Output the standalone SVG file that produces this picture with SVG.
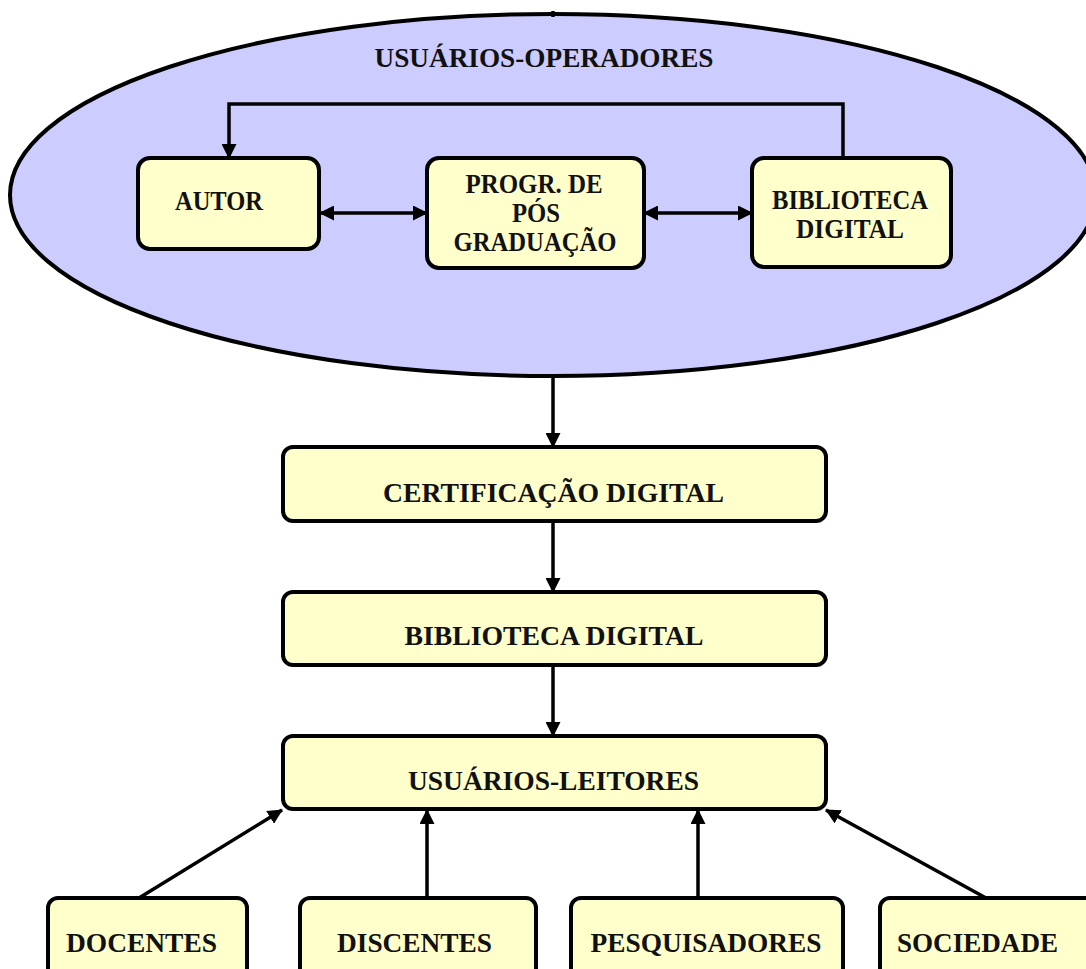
<svg xmlns="http://www.w3.org/2000/svg" width="1086" height="969" viewBox="0 0 1086 969">
  <style>
    .box { fill: #FFFFCC; stroke: #000; stroke-width: 4; }
    .lbl { font-family: "Liberation Serif", "Times New Roman", serif; font-weight: bold; fill: #111; text-anchor: middle; }
    .s24 { font-size: 27px; }
    .s27 { font-size: 27px; }
    .con { fill: none; stroke: #000; stroke-width: 3.5; }
  </style>
  <defs>
    <marker id="ah" markerUnits="userSpaceOnUse" markerWidth="15" markerHeight="15" viewBox="0 0 15 15" refX="14" refY="7.5" orient="auto-start-reverse">
      <path d="M0,0 L15,7.5 L0,15 z" fill="#000"/>
    </marker>
  </defs>
  <rect width="1086" height="969" fill="#fff"/>

  <g id="usuarios-operadores">
    <ellipse cx="553" cy="195" rx="543" ry="181" fill="#CCCCFF" stroke="#000" stroke-width="4"/>
    <text class="lbl s27" x="544" y="67" textLength="339" lengthAdjust="spacingAndGlyphs">USUÁRIOS-OPERADORES</text>
  </g>

  <g id="autor">
    <rect class="box" x="138" y="158" width="181" height="91" rx="12"/>
    <text class="lbl s24" x="219" y="210" textLength="88" lengthAdjust="spacingAndGlyphs">AUTOR</text>
  </g>

  <g id="progr-pos">
    <rect class="box" x="427" y="158" width="217" height="110" rx="12"/>
    <text class="lbl s24" x="534" y="193" textLength="137" lengthAdjust="spacingAndGlyphs">PROGR. DE</text>
    <text class="lbl s24" x="536" y="222" textLength="48" lengthAdjust="spacingAndGlyphs">PÓS</text>
    <text class="lbl s24" x="535" y="251" textLength="163" lengthAdjust="spacingAndGlyphs">GRADUAÇÃO</text>
  </g>

  <g id="biblioteca-digital-op">
    <rect class="box" x="752" y="158" width="199" height="109" rx="12"/>
    <text class="lbl s24" x="850" y="209" textLength="156" lengthAdjust="spacingAndGlyphs">BIBLIOTECA</text>
    <text class="lbl s24" x="850" y="238" textLength="108" lengthAdjust="spacingAndGlyphs">DIGITAL</text>
  </g>

  <g id="certificacao">
    <rect class="box" x="283" y="447" width="543" height="74" rx="10"/>
    <text class="lbl s27" x="553.5" y="502" textLength="341" lengthAdjust="spacingAndGlyphs">CERTIFICAÇÃO DIGITAL</text>
  </g>

  <g id="biblioteca-digital">
    <rect class="box" x="283" y="592" width="543" height="73" rx="10"/>
    <text class="lbl s27" x="554" y="645" textLength="299" lengthAdjust="spacingAndGlyphs">BIBLIOTECA DIGITAL</text>
  </g>

  <g id="usuarios-leitores">
    <rect class="box" x="283" y="736" width="543" height="73" rx="10"/>
    <text class="lbl s27" x="553.5" y="790" textLength="291" lengthAdjust="spacingAndGlyphs">USUÁRIOS-LEITORES</text>
  </g>

  <g id="docentes">
    <rect class="box" x="48" y="898" width="199" height="90" rx="10"/>
    <text class="lbl s27" x="141.5" y="952" textLength="151" lengthAdjust="spacingAndGlyphs">DOCENTES</text>
  </g>

  <g id="discentes">
    <rect class="box" x="300" y="898" width="236" height="90" rx="10"/>
    <text class="lbl s27" x="414.5" y="952" textLength="155" lengthAdjust="spacingAndGlyphs">DISCENTES</text>
  </g>

  <g id="pesquisadores">
    <rect class="box" x="571" y="898" width="272" height="90" rx="10"/>
    <text class="lbl s27" x="706" y="952" textLength="231" lengthAdjust="spacingAndGlyphs">PESQUISADORES</text>
  </g>

  <g id="sociedade">
    <rect class="box" x="880" y="898" width="230" height="90" rx="10"/>
    <text class="lbl s27" x="977.5" y="952" textLength="161" lengthAdjust="spacingAndGlyphs">SOCIEDADE</text>
  </g>

  <g id="connectors">
    <line class="con" x1="553" y1="11" x2="553" y2="17"/>
    <polyline class="con" points="843,158 843,104 229,104 229,158" marker-end="url(#ah)"/>
    <line class="con" x1="320" y1="213" x2="427" y2="213" marker-start="url(#ah)" marker-end="url(#ah)"/>
    <line class="con" x1="644" y1="213" x2="752" y2="213" marker-start="url(#ah)" marker-end="url(#ah)"/>
    <line class="con" x1="553" y1="377" x2="553" y2="447" marker-end="url(#ah)"/>
    <line class="con" x1="553" y1="521" x2="553" y2="592" marker-end="url(#ah)"/>
    <line class="con" x1="553" y1="665" x2="553" y2="736" marker-end="url(#ah)"/>
    <line class="con" x1="139" y1="898" x2="282" y2="810" marker-end="url(#ah)"/>
    <line class="con" x1="427" y1="898" x2="427" y2="810" marker-end="url(#ah)"/>
    <line class="con" x1="698" y1="898" x2="698" y2="810" marker-end="url(#ah)"/>
    <line class="con" x1="986" y1="898" x2="826" y2="810" marker-end="url(#ah)"/>
  </g>
</svg>
